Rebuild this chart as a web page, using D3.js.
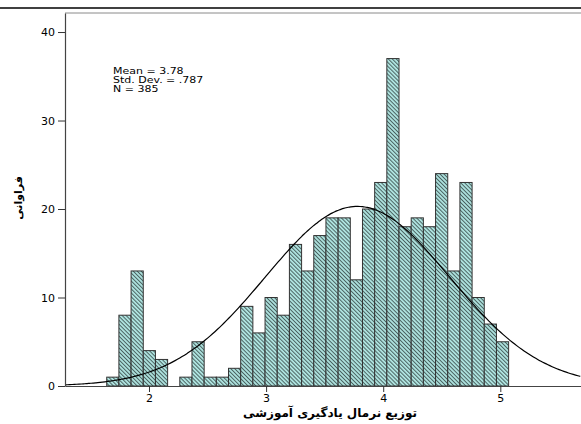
<!DOCTYPE html>
<html>
<head>
<meta charset="utf-8">
<script src="https://cdn.jsdelivr.net/npm/d3@7"></script>
<style>
  body { margin: 0; background: #fff; }
  svg { display: block; }
  text { font-family: "DejaVu Sans", "Liberation Sans", sans-serif; }
</style>
</head>
<body>
<div id="container"></div>
<script>
// histogram data
var counts = [1, 8, 13, 4, 3, 0, 1, 5, 1, 1, 2, 9, 6, 10, 8, 16, 13, 17, 19, 19,
              12, 20, 23, 37, 18, 19, 18, 24, 13, 23, 10, 7, 5];
var binStart = 1.639;
var binWidth = 0.104;

var xTicks = [2, 3, 4, 5];
var yTicks = [0, 10, 20, 30, 40];

var statLabels = ["Mean = 3.78", "Std. Dev. = .787", "N = 385"];
var stats = {mean: 3.78, sd: 0.787, n: 385};

var xTitle = "توزیع نرمال یادگیری آموزشی";
var yTitle = "فراوانی";

var width = 581, height = 424;
var margin = {top: 13, left: 65, bottom: 386};

var svg = d3.select("#container").append("svg")
  .attr("width", width)
  .attr("height", height);

// hatch pattern for the bars
var defs = svg.append("defs");
var pat = defs.append("pattern")
  .attr("id", "hatch")
  .attr("patternUnits", "userSpaceOnUse")
  .attr("width", 2.8)
  .attr("height", 2.8)
  .attr("patternTransform", "rotate(-45)");
pat.append("rect").attr("width", 2.8).attr("height", 2.8).attr("fill", "#aee3df");
pat.append("line")
  .attr("x1", 0.5).attr("y1", 0).attr("x2", 0.5).attr("y2", 2.8)
  .attr("stroke", "#2a3a3a").attr("stroke-width", 0.75);

var x = d3.scaleLinear().domain([1.2827, 5.689]).range([margin.left, width]);
var y = d3.scaleLinear().domain([0, 42.15]).range([margin.bottom, margin.top]);

// top rule line
svg.append("line")
  .attr("x1", 0).attr("x2", width).attr("y1", 8).attr("y2", 8)
  .attr("stroke", "#000").attr("stroke-width", 1.5);

// plot frame top
svg.append("line")
  .attr("x1", margin.left).attr("x2", width).attr("y1", margin.top).attr("y2", margin.top)
  .attr("stroke", "#8a8a8a").attr("stroke-width", 1);

// bars
svg.selectAll(".bar")
  .data(counts.map(function(c, i) { return {c: c, i: i}; }).filter(function(d) { return d.c > 0; }))
  .enter().append("rect")
    .attr("class", "bar")
    .attr("x", function(d) { return x(binStart + d.i * binWidth); })
    .attr("width", function(d) { return x(binStart + (d.i + 1) * binWidth) - x(binStart + d.i * binWidth); })
    .attr("y", function(d) { return y(d.c); })
    .attr("height", function(d) { return y(0) - y(d.c); })
    .attr("fill", "url(#hatch)")
    .attr("stroke", "#333")
    .attr("stroke-width", 1);

// normal curve from mean / sd / N
var scale = stats.n * binWidth / (stats.sd * Math.sqrt(2 * Math.PI));
var curveX = d3.range(x.domain()[0], x.domain()[1] + 0.01, 0.02);
var line = d3.line()
  .x(function(v) { return x(v); })
  .y(function(v) { return y(scale * Math.exp(-0.5 * Math.pow((v - stats.mean) / stats.sd, 2))); })
  .curve(d3.curveBasis);
svg.append("path")
  .datum(curveX)
  .attr("d", line)
  .attr("fill", "none")
  .attr("stroke", "#000")
  .attr("stroke-width", 1.2);

// axes
var xAxis = d3.axisBottom(x).tickValues(xTicks).tickFormat(d3.format("d"))
  .tickSize(6).tickSizeOuter(0).tickPadding(2);
var yAxis = d3.axisLeft(y).tickValues(yTicks).tickFormat(d3.format("d"))
  .tickSize(7).tickSizeOuter(0).tickPadding(3);

var gx = svg.append("g")
  .attr("transform", "translate(0," + margin.bottom + ")")
  .call(xAxis);
var gy = svg.append("g")
  .attr("transform", "translate(" + margin.left + ",0)")
  .call(yAxis);

[gx, gy].forEach(function(g) {
  g.select(".domain").attr("stroke", "#444").attr("stroke-width", 1.2);
  g.selectAll(".tick line").attr("stroke", "#333");
  g.selectAll(".tick text")
    .style("font-family", "DejaVu Sans, sans-serif")
    .style("font-size", "11px")
    .attr("fill", "#000");
});

// stats text
svg.append("g")
  .attr("transform", "translate(113,74) scale(1.25,1)")
  .selectAll("text")
  .data(statLabels).enter()
  .append("text")
    .attr("x", 0)
    .attr("y", function(d, i) { return i * 9.2; })
    .style("font-size", "8.8px")
    .text(function(d) { return d; });

// axis titles
svg.append("text")
  .attr("x", 330).attr("y", 417)
  .attr("text-anchor", "middle")
  .style("font-size", "12px")
  .style("font-weight", "bold")
  .attr("direction", "rtl")
  .text(xTitle);

svg.append("text")
  .attr("transform", "translate(22,198) rotate(-90)")
  .attr("text-anchor", "middle")
  .style("font-size", "11px")
  .style("font-weight", "bold")
  .attr("direction", "rtl")
  .text(yTitle);
</script>
</body>
</html>
